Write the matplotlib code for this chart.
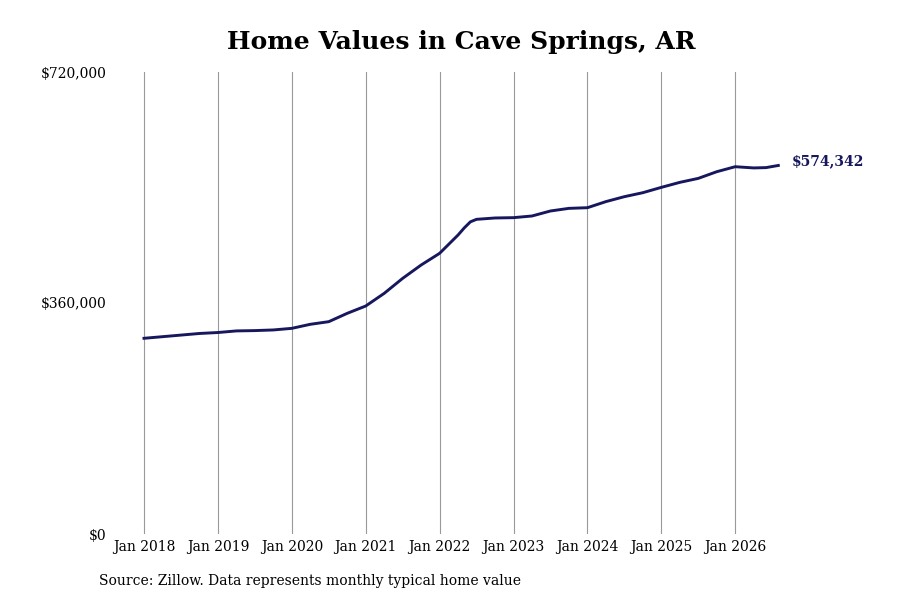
import matplotlib.pyplot as plt
from matplotlib.ticker import FuncFormatter

# typical home values (roughly quarterly)
years = [2018, 2018, 2018, 2018, 2019, 2019, 2019, 2019, 2020, 2020, 2020, 2020,
         2021, 2021, 2021, 2021, 2022, 2022, 2022, 2022, 2022, 2022, 2023, 2023, 2023, 2023,
         2024, 2024, 2024, 2024, 2025, 2025, 2025, 2025, 2026, 2026, 2026, 2026]
months = [1, 4, 7, 10, 1, 4, 7, 10, 1, 4, 7, 10,
          1, 4, 7, 10, 1, 4, 5, 6, 7, 10, 1, 4, 7, 10,
          1, 4, 7, 10, 1, 4, 7, 10, 1, 4, 6, 8]
values = [305000, 307500, 310000, 312500, 314000, 316500, 317000, 318000,
          320500, 326800, 330900, 343900,
          355300, 375000, 398400, 419200, 437400, 466000, 477000, 486500, 490400, 492500,
          493000, 495600, 503400, 507500,
          508500, 518000, 525700, 531900, 540200, 548000, 554200, 564600,
          572400, 570500, 571000, 574342]

tick_years = list(range(2018, 2027))
tick_labels = ['Jan %d' % y for y in tick_years]

x = [y + (m - 1) / 12 for y, m in zip(years, months)]

plt.rcParams['font.family'] = ['DejaVu Serif']

fig = plt.figure(figsize=(9, 6), dpi=100)
ax = fig.add_axes([115 / 900, 66 / 600, 675 / 900, 462 / 600])

line_color = '#17175e'
ax.plot(x, values, color=line_color, linewidth=2.1, solid_joinstyle='round')

ax.set_xlim(2018 - 29 / 73.9, 2018 + 646 / 73.9)
ax.set_ylim(0, 720000)
ax.set_xticks(tick_years)
ax.set_xticklabels(tick_labels, fontsize=10)
ax.set_yticks([0, 360000, 720000])
ax.yaxis.set_major_formatter(FuncFormatter(lambda v, p: '${:,.0f}'.format(v)))
ax.tick_params(axis='y', length=0, labelsize=10, pad=6)
ax.tick_params(axis='x', length=0, labelsize=10, pad=4)
ax.grid(axis='x', color='#999999', linewidth=0.8)
ax.set_axisbelow(True)
for s in ax.spines.values():
    s.set_visible(False)

ax.annotate('${:,.0f}'.format(values[-1]), xy=(x[-1], values[-1]),
            xytext=(10, 3), textcoords='offset points', va='center',
            fontsize=10, fontweight='bold', color=line_color)

fig.text(461 / 900, 1 - 42 / 600, 'Home Values in Cave Springs, AR',
         ha='center', va='center', fontsize=18, fontweight='bold')
fig.text(99 / 900, 1 - 581 / 600, 'Source: Zillow. Data represents monthly typical home value',
         ha='left', va='center', fontsize=10)

fig.savefig('out.png')
